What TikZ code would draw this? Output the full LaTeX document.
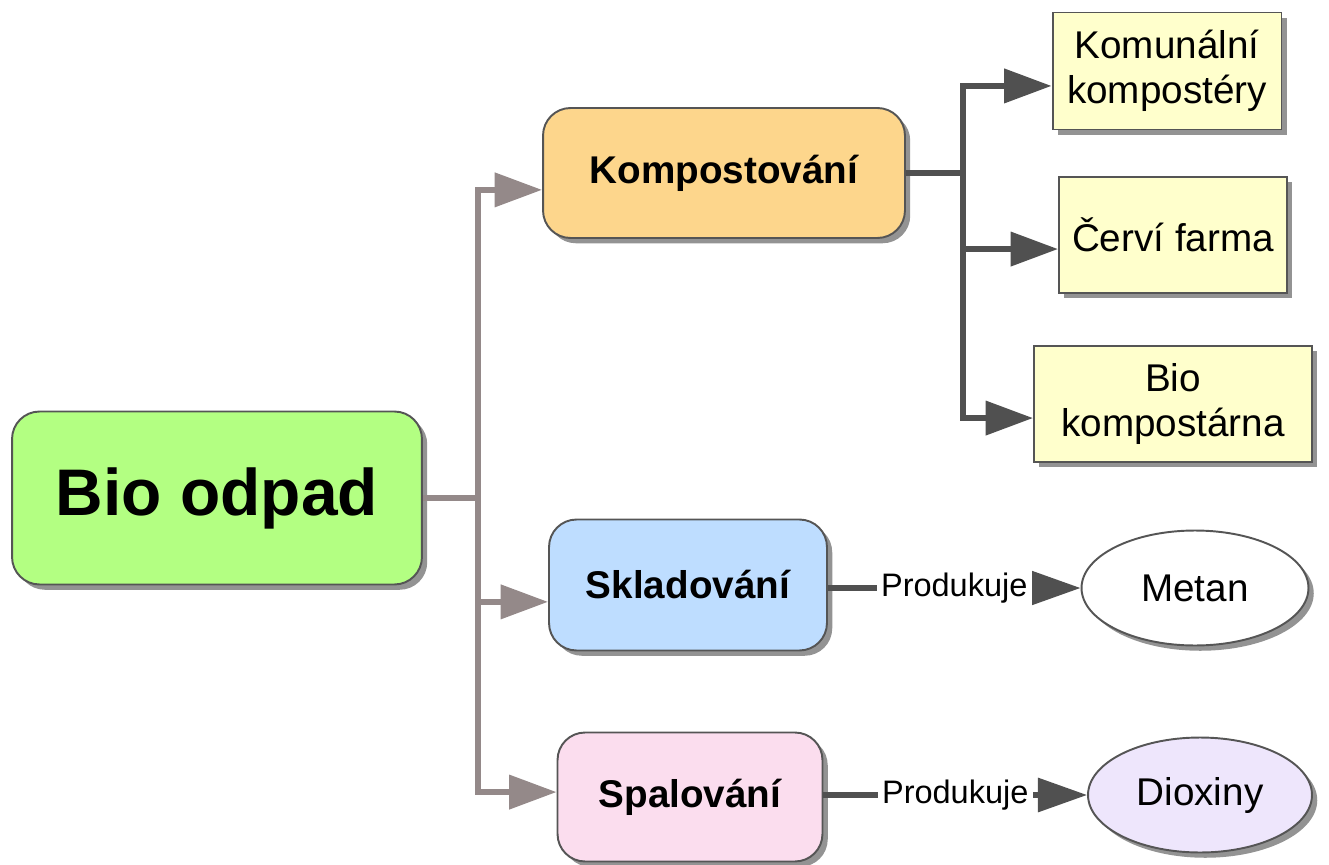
\documentclass[tikz,border=0pt]{standalone}
\usepackage{fontspec}
\setmainfont{Liberation Sans}
\usepackage{xcolor}
\usetikzlibrary{positioning,arrows.meta,shadows,shapes.geometric}
\definecolor{boxline}{RGB}{85,85,85}
\definecolor{shadowgray}{RGB}{135,135,135}
\definecolor{treegray}{RGB}{148,137,137}
\definecolor{treedark}{RGB}{80,80,80}
\definecolor{biogreen}{RGB}{179,255,130}
\definecolor{kompostorange}{RGB}{253,214,140}
\definecolor{skladblue}{RGB}{190,221,255}
\definecolor{spalpink}{RGB}{251,221,238}
\definecolor{leafyellow}{RGB}{255,255,204}
\definecolor{dioxlilac}{RGB}{238,230,252}

\begin{document}
\begin{tikzpicture}[x=0.02cm,y=-0.02cm,
	shade/.style={drop shadow={shadow xshift=3pt,shadow yshift=-3pt,fill=shadowgray,opacity=0.9}},
	box/.style={draw=boxline,line width=1.1pt,rounded corners=0.55cm,shade,align=center,inner sep=0pt,font=\fontsize{22}{26}\selectfont\bfseries},
	leaf/.style={draw=boxline,line width=1.1pt,fill=leafyellow,shade,align=center,inner sep=0pt,font=\fontsize{22}{25.5}\selectfont},
	result/.style={ellipse,draw=boxline,line width=1.1pt,shade,inner sep=0pt,font=\fontsize{22}{26}\selectfont},
	graytree/.style={draw=treegray,line width=3.4pt},
	darktree/.style={draw=treedark,line width=3.4pt},
	toarrow/.style={-{Triangle[length=27pt,width=19pt]}},
	produces/.style={draw=treedark,line width=3pt,-{Triangle[length=28pt,width=19pt]}},
	tag/.style={fill=white,inner sep=2.5pt,font=\fontsize{18.5}{22}\selectfont}]
	\useasboundingbox (0,0) rectangle (1329,865);

	\node[box,fill=biogreen,minimum width=8.2cm,minimum height=3.46cm,font=\fontsize{37.5}{45}\selectfont\bfseries] (bio) at (217,498) {Bio odpad};
	\node[box,fill=kompostorange,minimum width=7.24cm,minimum height=2.6cm] (kompost) at (724,173) {Kompostování};
	\node[box,fill=skladblue,minimum width=5.56cm,minimum height=2.62cm] (sklad) at (688,585) {Skladování};
	\node[box,fill=spalpink,minimum width=5.3cm,minimum height=2.58cm] (spal) at (690,797) {Spalování};

	\node[leaf,minimum width=4.58cm,minimum height=2.34cm] (komun) at (1167,71) {Komunální\\kompostéry};
	\node[leaf,minimum width=4.56cm,minimum height=2.32cm] (cervi) at (1173,235) {Červí farma};
	\node[leaf,minimum width=5.56cm,minimum height=2.32cm] (biokomp) at (1173,404) {Bio\\kompostárna};

	\node[result,fill=white,minimum width=4.54cm,minimum height=2.3cm] (metan) at (1195,588) {Metan};
	\node[result,fill=dioxlilac,minimum width=4.48cm,minimum height=2.3cm] (diox) at (1200,795) {Dioxiny};

	\coordinate (jbio) at (478,498);
	\coordinate (jkomp) at (963,173);

	\draw[graytree] (bio.east) -- (jbio);
	\draw[graytree,toarrow] (jbio) |- ([yshift=-9.6pt]kompost.west);
	\draw[graytree,toarrow] (jbio) |- ([yshift=-9.6pt]sklad.west);
	\draw[graytree,toarrow] (jbio) |- ([yshift=2.8pt]spal.west);

	\draw[darktree] (kompost.east) -- (jkomp);
	\draw[darktree,toarrow] (jkomp) |- ([yshift=-8.5pt]komun.west);
	\draw[darktree,toarrow] (jkomp) |- ([yshift=-8pt]cervi.west);
	\draw[darktree,toarrow] (jkomp) |- ([yshift=-8pt]biokomp.west);

	\draw[produces] (sklad.east |- metan.west) -- node[tag] {Produkuje} (metan.west);
	\draw[produces] (spal.east |- diox.west) -- node[tag] {Produkuje} (diox.west);
\end{tikzpicture}
\end{document}
